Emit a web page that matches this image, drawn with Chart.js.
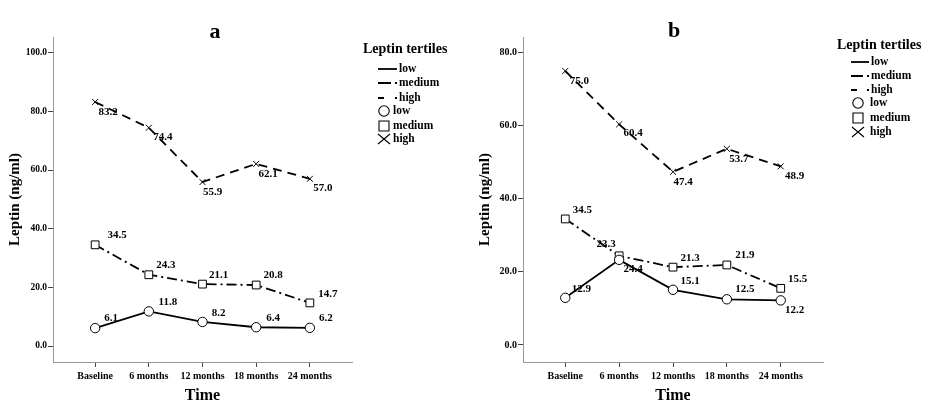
<!DOCTYPE html>
<html>
<head>
<meta charset="utf-8">
<script src="https://cdn.jsdelivr.net/npm/chart.js@4"></script>
<style>
  body { margin: 0; background: #fff; width: 935px; height: 414px; overflow: hidden; position: relative; }
  .panel { position: absolute; top: 0; }
  #wrapA { left: 0; }
  #wrapB { left: 470px; }
</style>
</head>
<body>
<div class="panel" id="wrapA"><canvas id="chartA" width="470" height="414"></canvas></div>
<div class="panel" id="wrapB"><canvas id="chartB" width="465" height="414"></canvas></div>
<script>
// data
const categories = ["Baseline", "6 months", "12 months", "18 months", "24 months"];
const lowA = [6.1, 11.8, 8.2, 6.4, 6.2];
const mediumA = [34.5, 24.3, 21.1, 20.8, 14.7];
const highA = [83.2, 74.4, 55.9, 62.1, 57.0];
const lowB = [12.9, 23.3, 15.1, 12.5, 12.2];
const mediumB = [34.5, 24.4, 21.3, 21.9, 15.5];
const highB = [75.0, 60.4, 47.4, 53.7, 48.9];
const yTicksA = [0, 20, 40, 60, 80, 100];
const yTicksB = [0, 20, 40, 60, 80];
const seriesNames = ["low", "medium", "high"];

const FONT = "'Liberation Serif', 'Times New Roman', serif";

// label offsets (px) from each point, low / medium / high
const offsetsA = [
  [[16, -10], [19, -9], [16, -9], [17, -9], [16, -10]],
  [[22, -10], [17, -10], [16, -9], [17, -10], [18, -9]],
  [[13, 10], [14, 9], [10, 10], [12, 10], [13, 9]]
];
const offsetsB = [
  [[16, -9], [-13, -16], [17, -9], [18, -10], [14, 10]],
  [[17, -9], [14, 13], [17, -9], [18, -10], [17, -9]],
  [[14, 10], [14, 9], [10, 10], [12, 10], [14, 10]]
];

const lineStyles = [
  { dash: [], point: "circle", radius: 4.7 },
  { dash: [10, 4, 2, 4], point: "rect", radius: 5.5 },
  { dash: [9, 6], point: "crossRot", radius: 4.2 }
];

function makeChart(id, series, yTicks, yMin, yMax, padRight, offsets, panel) {
  const datasets = series.map((vals, s) => ({
    label: seriesNames[s],
    data: vals.map((v, i) => ({ x: i, y: v })),
    borderColor: "#000",
    borderWidth: 1.8,
    borderDash: lineStyles[s].dash,
    pointStyle: lineStyles[s].point,
    pointRadius: lineStyles[s].radius,
    pointBorderWidth: 1,
    pointBorderColor: "#000",
    pointBackgroundColor: "#fff",
    tension: 0
  }));

  const labelsPlugin = {
    id: "pointLabels",
    afterDatasetsDraw(chart) {
      const ctx = chart.ctx;
      ctx.save();
      ctx.font = "bold 11px " + FONT;
      ctx.fillStyle = "#000";
      ctx.textAlign = "center";
      ctx.textBaseline = "middle";
      chart.data.datasets.forEach((ds, di) => {
        chart.getDatasetMeta(di).data.forEach((pt, i) => {
          const off = offsets[di][i];
          ctx.fillText(ds.data[i].y.toFixed(1), pt.x + off[0], pt.y + off[1]);
        });
      });
      ctx.restore();
    }
  };

  const legendPlugin = {
    id: "sideLegend",
    afterDraw(chart) {
      const ctx = chart.ctx;
      const L = panel.legend;
      const len = L.lineX1 - L.lineX0;
      ctx.save();
      ctx.fillStyle = "#000";
      ctx.strokeStyle = "#000";
      // panel letter
      ctx.font = "bold 22px " + FONT;
      ctx.textAlign = "center";
      ctx.textBaseline = "alphabetic";
      ctx.fillText(panel.letter, panel.letterX, panel.letterY);
      // legend title
      ctx.textAlign = "left";
      ctx.textBaseline = "middle";
      ctx.font = "bold 14px " + FONT;
      ctx.fillText("Leptin tertiles", L.titleX, L.titleY);
      ctx.font = "bold 11.5px " + FONT;
      // line samples
      const sampleDash = [[], [len - 6, 4, 2, 100], [6, len - 8, 2, 100]];
      seriesNames.forEach((name, s) => {
        const y = L.rows[s];
        ctx.lineWidth = 1.8;
        ctx.setLineDash(sampleDash[s]);
        ctx.beginPath();
        ctx.moveTo(L.lineX0, y);
        ctx.lineTo(L.lineX1, y);
        ctx.stroke();
        ctx.setLineDash([]);
        ctx.fillText(name, L.textX, y);
      });
      // marker samples
      seriesNames.forEach((name, s) => {
        const y = L.rows[s + 3];
        const x = L.markerX;
        ctx.lineWidth = 1.1;
        ctx.beginPath();
        if (s === 0) {
          ctx.arc(x, y, 5.2, 0, Math.PI * 2);
        } else if (s === 1) {
          ctx.rect(x - 5, y - 5, 10, 10);
        } else {
          ctx.moveTo(x - 6, y - 5); ctx.lineTo(x + 6, y + 5);
          ctx.moveTo(x - 6, y + 5); ctx.lineTo(x + 6, y - 5);
        }
        ctx.stroke();
        ctx.fillText(name, L.markerTextX, y);
      });
      ctx.restore();
    }
  };

  return new Chart(document.getElementById(id), {
    type: "line",
    data: { datasets },
    plugins: [labelsPlugin, legendPlugin],
    options: {
      responsive: false,
      animation: false,
      layout: { padding: { top: 37, right: padRight, left: 0, bottom: 0 } },
      plugins: { legend: { display: false }, tooltip: { enabled: false } },
      scales: {
        x: {
          type: "linear",
          min: -0.785,
          max: 4.785,
          afterBuildTicks: s => { s.ticks = categories.map((c, i) => ({ value: i })); },
          afterFit: s => { s.height = 52; },
          ticks: {
            callback: v => categories[v],
            autoSkip: false,
            maxRotation: 0,
            padding: 3,
            color: "#000",
            font: { family: FONT, weight: "bold", size: 10 }
          },
          grid: { drawOnChartArea: false, tickLength: 5, color: "#444" },
          border: { color: "#999", width: 1 },
          title: {
            display: true,
            text: "Time",
            color: "#000",
            font: { family: FONT, weight: "bold", size: 16 },
            padding: { top: 0, bottom: 9 }
          }
        },
        y: {
          type: "linear",
          min: yMin,
          max: yMax,
          afterBuildTicks: s => { s.ticks = yTicks.map(v => ({ value: v })); },
          afterFit: s => { s.width = 53; },
          ticks: {
            callback: v => v.toFixed(1),
            padding: 1,
            color: "#000",
            font: { family: FONT, weight: "bold", size: panel.yTickSize }
          },
          grid: { drawOnChartArea: false, tickLength: 5, color: "#444" },
          border: { color: "#999", width: 1 },
          title: {
            display: true,
            text: "Leptin (ng/ml)",
            color: "#000",
            font: { family: FONT, weight: "bold", size: 15 },
            padding: { top: 6, bottom: 0 }
          }
        }
      }
    }
  });
}

makeChart("chartA", [lowA, mediumA, highA], yTicksA, -5.45, 105.35, 118, offsetsA, {
  letter: "a", letterX: 215, letterY: 38, yTickSize: 9.5,
  legend: { titleX: 363, titleY: 49, rows: [69, 83, 98, 111, 126, 139],
            lineX0: 378, lineX1: 397, textX: 399, markerX: 384, markerTextX: 393 }
});

makeChart("chartB", [lowB, mediumB, highB], yTicksB, -4.67, 84.31, 112, offsetsB, {
  letter: "b", letterX: 204, letterY: 37, yTickSize: 10,
  legend: { titleX: 367, titleY: 45, rows: [62, 76, 90, 103, 118, 132],
            lineX0: 381, lineX1: 399, textX: 401, markerX: 388, markerTextX: 400 }
});
</script>
</body>
</html>
